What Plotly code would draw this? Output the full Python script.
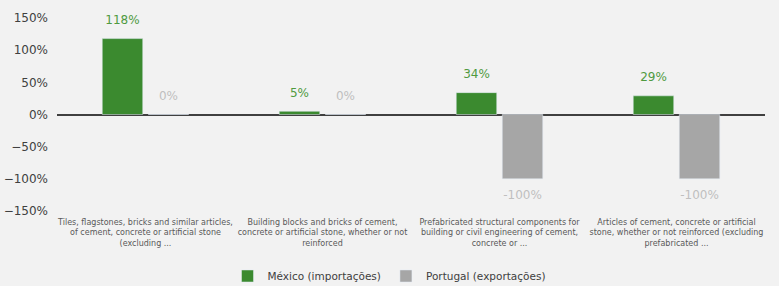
import plotly.graph_objects as go

categories = [
    "Tiles, flagstones, bricks and similar articles,<br>of cement, concrete or artificial stone<br>(excluding ...",
    "Building blocks and bricks of cement,<br>concrete or artificial stone, whether or not<br>reinforced",
    "Prefabricated structural components for<br>building or civil engineering of cement,<br>concrete or ...",
    "Articles of cement, concrete or artificial<br>stone, whether or not reinforced (excluding<br>prefabricated ...",
]
mexico = [118, 5, 34, 29]
portugal = [0, 0, -100, -100]

series = [
    ("México (importações)", mexico, "#3b8a2f", "#4f9a3f", "g1"),
    ("Portugal (exportações)", portugal, "#a6a6a6", "#bfbfbf", "g2"),
]

fig = go.Figure()
for name, vals, col, tcol, grp in series:
    fig.add_trace(go.Bar(
        x=categories, y=vals, name=name, marker=dict(color=col),
        offsetgroup=grp, alignmentgroup="a",
    ))
for name, vals, col, tcol, grp in series:
    fig.add_trace(go.Scatter(
        x=categories, y=vals, mode="markers+text", showlegend=False,
        offsetgroup=grp, alignmentgroup="a",
        marker=dict(size=17, opacity=0),
        text=[f"{v}%" for v in vals],
        textposition=["bottom center" if v < 0 else "top center" for v in vals],
        textfont=dict(color=tcol, size=12), cliponaxis=False, hoverinfo="skip",
    ))

fig.update_layout(
    width=779, height=286,
    paper_bgcolor="#f2f2f2", plot_bgcolor="#f2f2f2",
    margin=dict(l=57, r=14, t=18, b=75, autoexpand=False),
    font=dict(family="DejaVu Sans, Verdana, sans-serif", color="#404040"),
    barmode="group", bargap=0.48, bargroupgap=0.12,
    scattermode="group", scattergap=0.48,
    showlegend=True,
    legend=dict(orientation="h", x=0.5, xanchor="center", xref="container",
                y=0.035, yanchor="middle", yref="container",
                font=dict(size=10.5, color="#404040"), itemwidth=30,
                bgcolor="rgba(0,0,0,0)"),
    xaxis=dict(showgrid=False, tickfont=dict(size=8, color="#595959"), ticks="",
               showline=False, automargin=False, ticklabelstandoff=5),
    yaxis=dict(range=[-150, 150], dtick=50, ticksuffix="%", showgrid=False,
               zeroline=True, zerolinecolor="#404040", zerolinewidth=2,
               tickfont=dict(size=12, color="#404040"), automargin=False,
               ticklabelstandoff=8),
)
fig.write_html("out.html", config={"displayModeBar": False},
               post_script="document.body.style.margin='0';")
